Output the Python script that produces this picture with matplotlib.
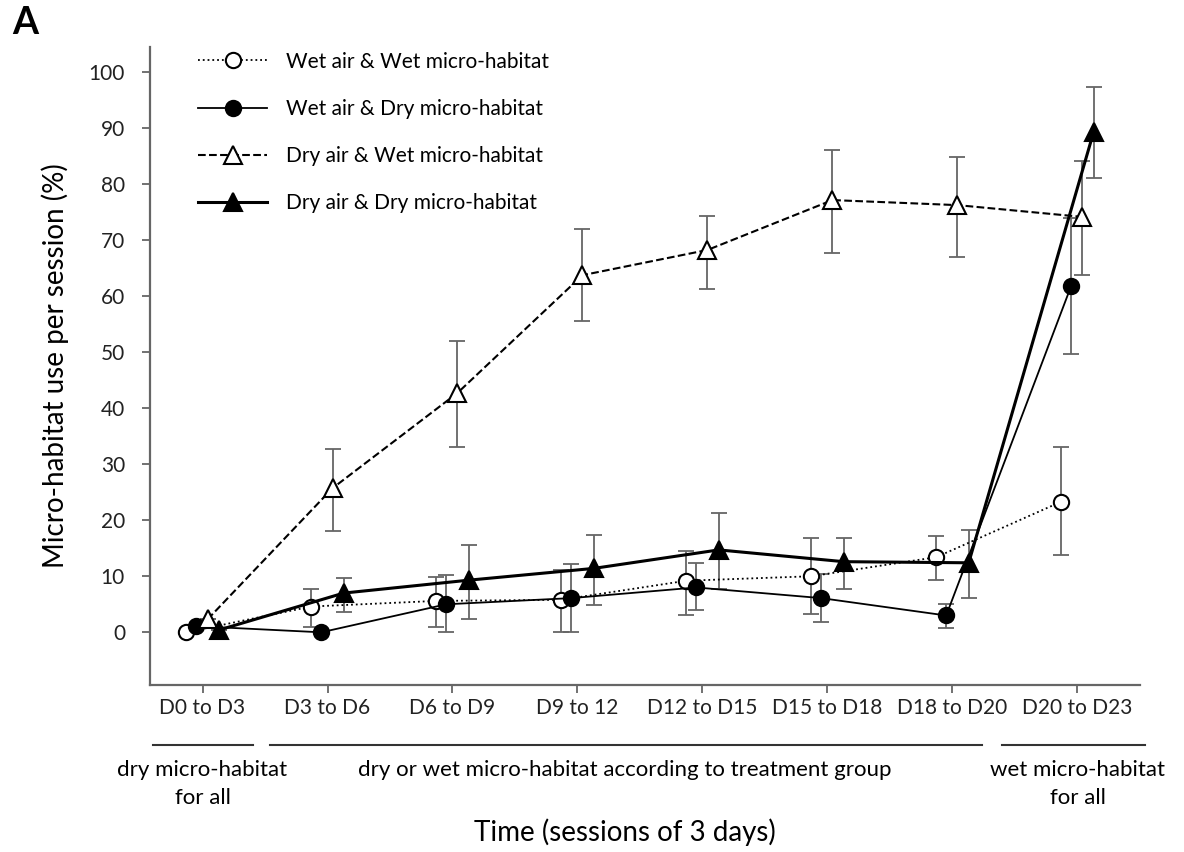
import numpy as np
import matplotlib.pyplot as plt
import matplotlib.transforms as mtransforms
from matplotlib.lines import Line2D

plt.rcParams['font.family'] = ['Lato', 'DejaVu Sans']

sessions = ["D0 to D3", "D3 to D6", "D6 to D9", "D9 to 12",
            "D12 to D15", "D15 to D18", "D18 to D20", "D20 to D23"]

# mean and error-bar ends (%) per session
wet_wet = [0.0, 4.6, 5.6, 5.8, 9.2, 10.0, 13.4, 23.3]
wet_wet_hi = [0.0, 7.8, 9.9, 11.1, 14.5, 16.8, 17.2, 33.0]
wet_wet_lo = [0.0, 1.0, 1.0, 0.0, 3.1, 3.3, 9.3, 13.8]

wet_dry = [1.1, 0.0, 5.0, 6.1, 8.0, 6.1, 3.0, 61.8]
wet_dry_hi = [1.1, 0.0, 10.2, 12.1, 12.4, 10.4, 5.0, 73.9]
wet_dry_lo = [1.1, 0.0, 0.0, 0.0, 3.9, 1.8, 0.8, 49.7]

dry_wet = [2.3, 25.7, 42.7, 63.7, 68.2, 77.1, 76.2, 74.1]
dry_wet_hi = [2.3, 32.7, 52.0, 72.0, 74.2, 86.1, 84.8, 84.1]
dry_wet_lo = [2.3, 18.0, 33.0, 55.5, 61.3, 67.6, 66.9, 63.7]

dry_dry = [0.4, 7.0, 9.3, 11.4, 14.7, 12.6, 12.4, 89.3]
dry_dry_hi = [0.4, 9.6, 15.6, 17.4, 21.2, 16.8, 18.2, 97.2]
dry_dry_lo = [0.4, 3.7, 2.3, 4.9, 7.8, 7.7, 6.1, 81.0]

labels = ["Wet air & Wet micro-habitat", "Wet air & Dry micro-habitat",
          "Dry air & Wet micro-habitat", "Dry air & Dry micro-habitat"]

fig = plt.figure(figsize=(11.84, 8.52), dpi=100)
ax = fig.add_axes([0.1267, 0.196, 0.8361, 0.7488])

x = np.arange(len(sessions))
series = [
    (wet_wet, wet_wet_lo, wet_wet_hi, -0.13, dict(ls=':', lw=1.3, marker='o', mfc='white', ms=11)),
    (wet_dry, wet_dry_lo, wet_dry_hi, -0.05, dict(ls='-', lw=1.3, marker='o', mfc='black', ms=11)),
    (dry_wet, dry_wet_lo, dry_wet_hi, 0.04, dict(ls='--', lw=1.5, marker='^', mfc='white', ms=13.5)),
    (dry_dry, dry_dry_lo, dry_dry_hi, 0.13, dict(ls='-', lw=2.2, marker='^', mfc='black', ms=13.5)),
]

handles = []
for (vals, lo, hi, off, style), lab in zip(series, labels):
    v = np.array(vals)
    err = [v - np.array(lo), np.array(hi) - v]
    ax.errorbar(x + off, v, yerr=err, fmt='none', ecolor='#666666',
                elinewidth=1.3, capsize=5.5, capthick=1.3, zorder=2)
    h, = ax.plot(x + off, v, color='black', mec='black', mew=1.5,
                 label=lab, zorder=3, **style)
    handles.append(h)

ax.set_xlim(-0.42, 7.5)
ax.set_ylim(-9.4, 104.4)
ax.set_yticks(range(0, 101, 10))
ax.set_xticks(x)
ax.set_xticklabels(sessions, fontsize=15)
ax.tick_params(axis='y', labelsize=15)
ax.tick_params(colors='#666666', labelcolor='#222222', length=6, width=1.3)
ax.tick_params(axis='y', pad=12)
for side in ['top', 'right']:
    ax.spines[side].set_visible(False)
for side in ['left', 'bottom']:
    ax.spines[side].set_color('#666666')
    ax.spines[side].set_linewidth(1.6)

ax.set_ylabel("Micro-habitat use per session (%)", fontsize=20, labelpad=14)

ax.legend(handles=handles, loc='upper left', bbox_to_anchor=(0.03, 1.022),
          frameon=False, fontsize=15, handlelength=3.3, handletextpad=0.9,
          labelspacing=1.3)

# treatment periods under the x axis
trans = mtransforms.blended_transform_factory(ax.transData, ax.transAxes)
periods = [(-0.40, 0.40), (0.54, 6.24), (6.40, 7.54)]
for a, b in periods:
    ax.add_line(Line2D([a, b], [-0.094, -0.094], transform=trans, color='#333333',
                       lw=1.5, clip_on=False))
ax.text(0.0, -0.118, "dry micro-habitat\nfor all", transform=trans, ha='center',
        va='top', fontsize=16, linespacing=1.5)
ax.text(3.38, -0.118, "dry or wet micro-habitat according to treatment group",
        transform=trans, ha='center', va='top', fontsize=16)
ax.text(7.0, -0.118, "wet micro-habitat\nfor all", transform=trans, ha='center',
        va='top', fontsize=16, linespacing=1.5)
ax.text(3.38, -0.23, "Time (sessions of 3 days)", transform=trans, ha='center',
        va='center', fontsize=20)

fig.text(0.010, 0.993, "A", fontsize=27, weight='bold', va='top')

fig.savefig("out.png", dpi=100)
